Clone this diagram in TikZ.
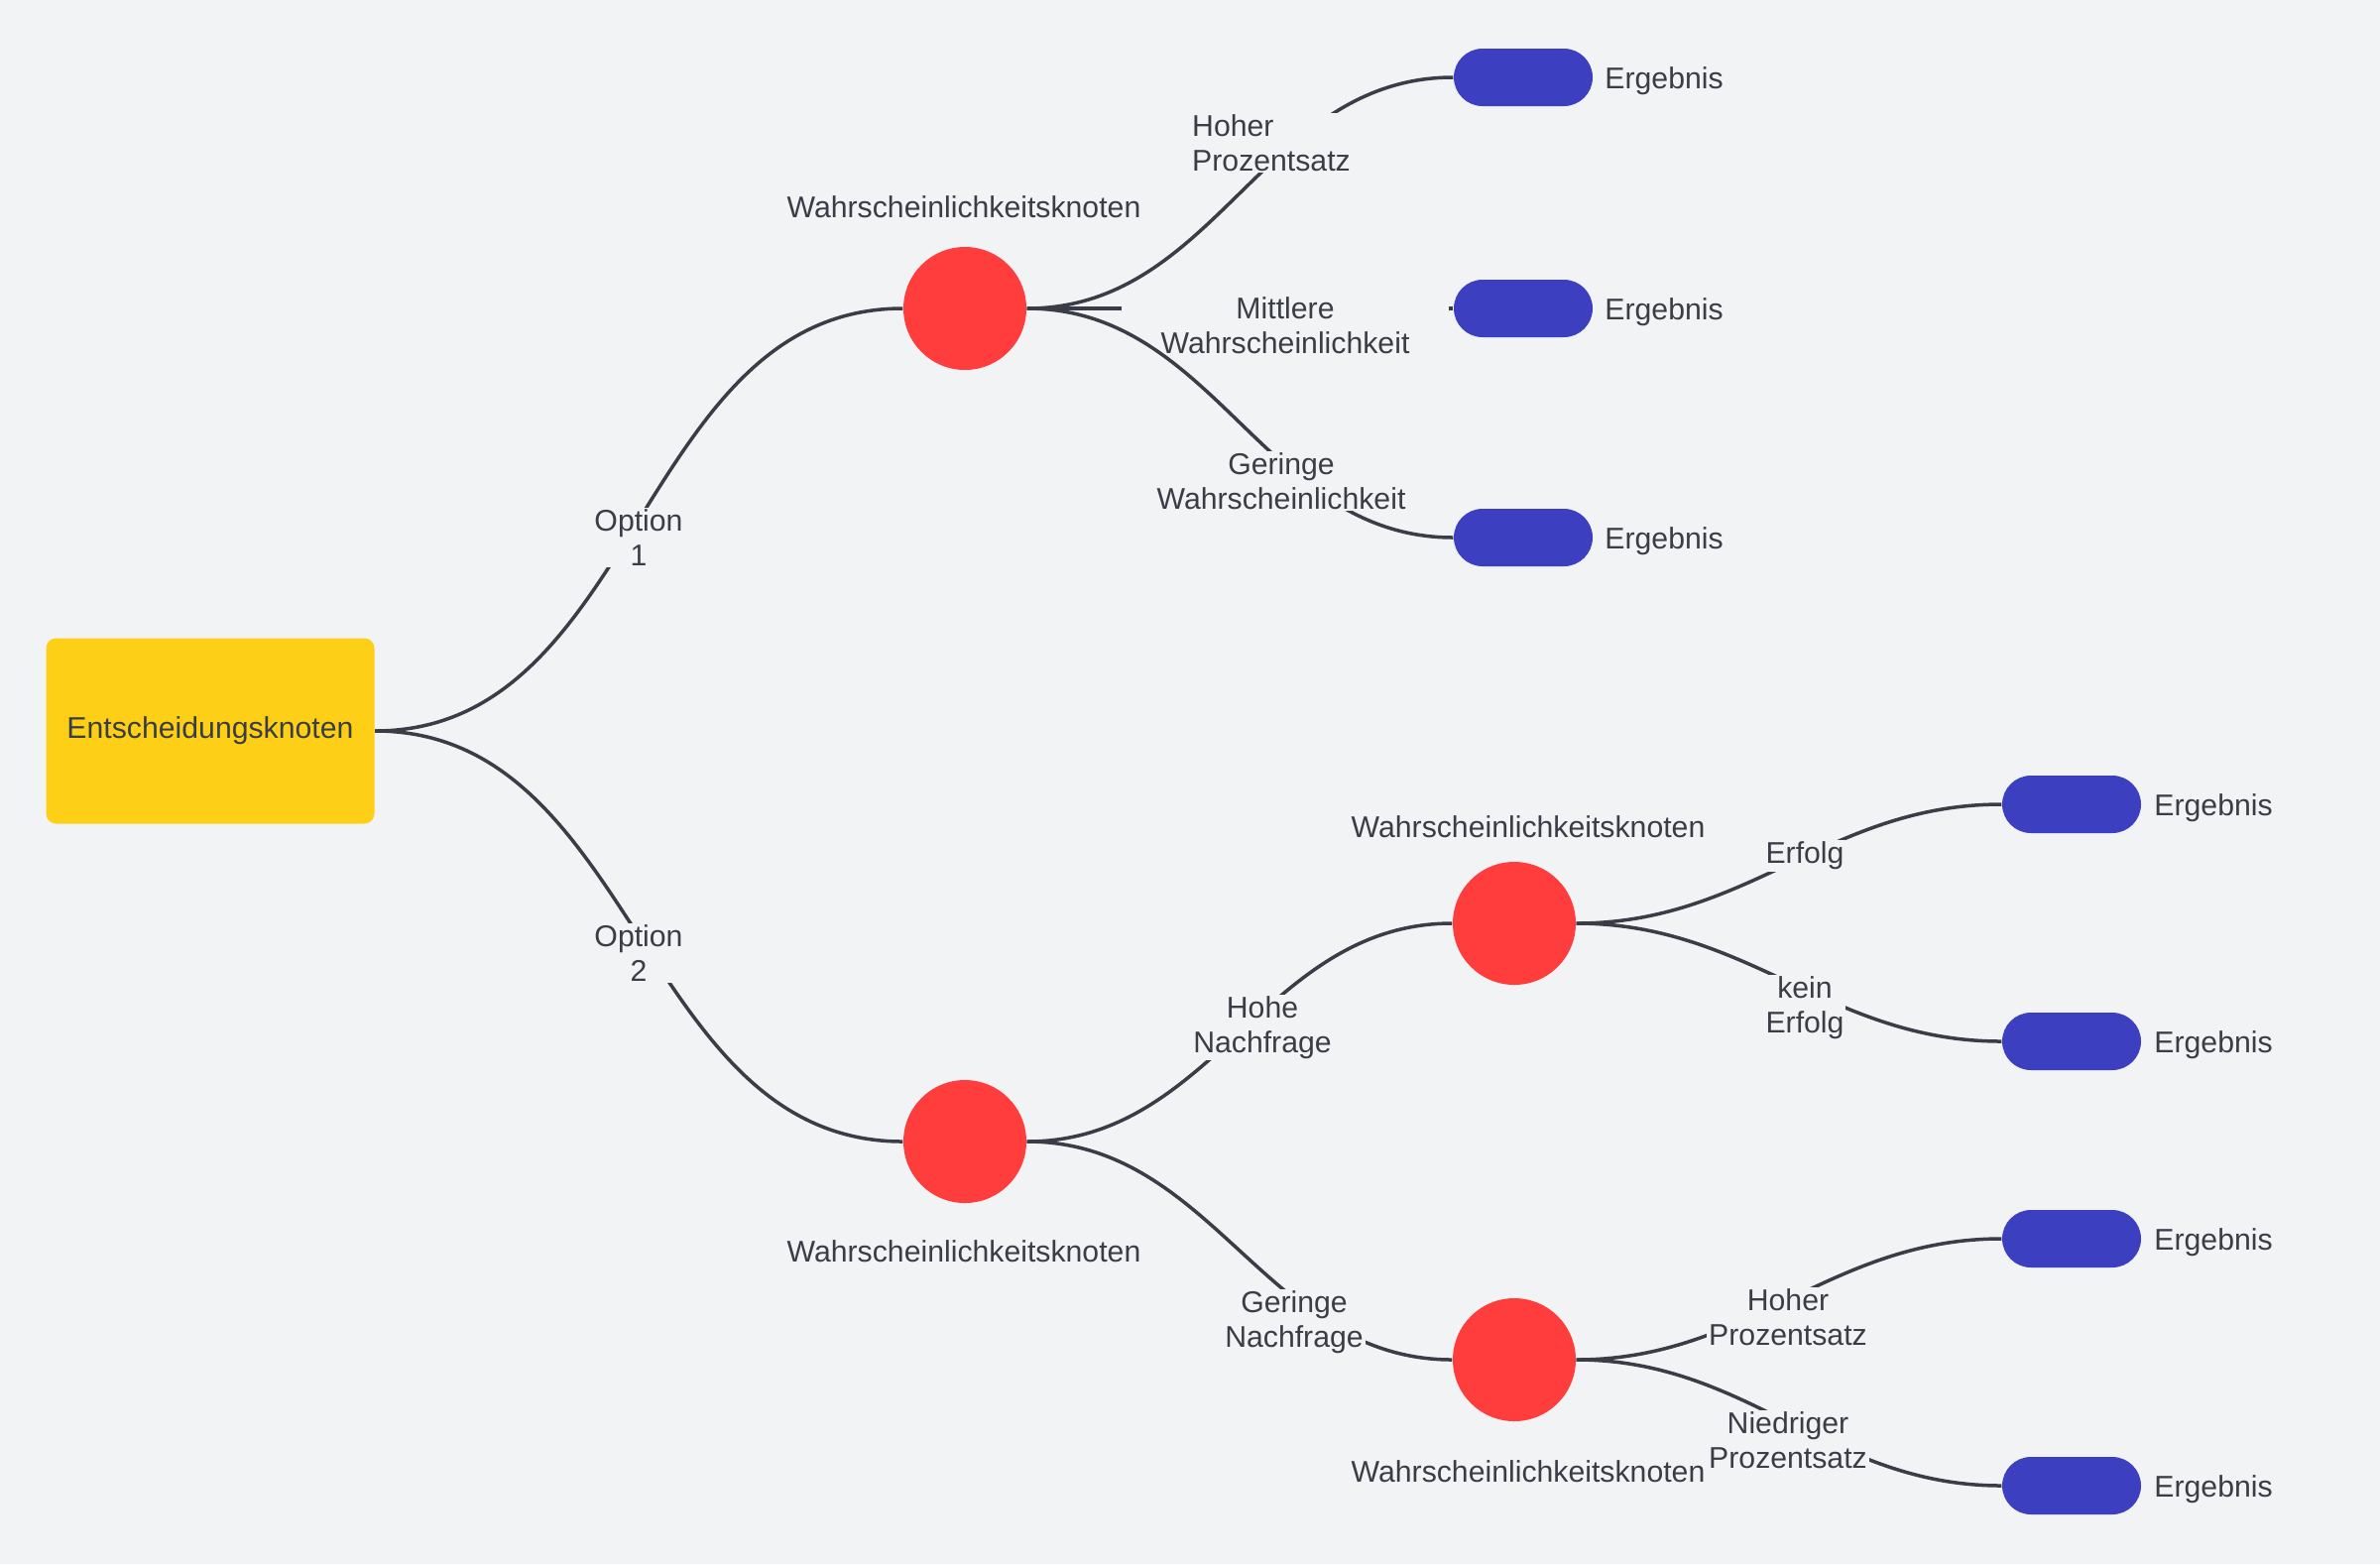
\documentclass[tikz,border=0pt]{standalone}
\usepackage{fontspec}
\setmainfont{Liberation Sans}
\definecolor{hintergrund}{HTML}{F2F3F5}
\definecolor{gelb}{HTML}{FDD017}
\definecolor{rot}{HTML}{FF3D3D}
\definecolor{blau}{HTML}{3C40C0}
\definecolor{dunkel}{HTML}{3A3D46}
\tikzset{
  entscheidung/.style={rectangle, rounded corners=1mm, fill=gelb, minimum width=33.1mm, minimum height=18.7mm},
  zufall/.style={circle, fill=rot, minimum size=12.4mm, inner sep=0pt},
  ergebnis/.style={rectangle, rounded corners=2.9mm, fill=blau, minimum width=14mm, minimum height=5.8mm},
  kante/.style={draw=dunkel, line width=0.35mm},
  beschr/.style={align=center, fill=hintergrund, inner sep=0.5pt},
}

\begin{document}
\begin{tikzpicture}[x=0.1mm, y=-0.1mm, font=\fontsize{8.6}{9.8}\selectfont, text=dunkel]
    \fill[hintergrund](0, 0)rectangle(2400, 1577);
    \useasboundingbox(0, 0)rectangle(2400, 1577);
    % Knoten
    \node[entscheidung](d) at (212, 737){Entscheidungsknoten};
    \node[zufall](w1) at (973, 311){};
    \node[zufall](w2) at (973, 1151){};
    \node[zufall](w3) at (1527, 931){};
    \node[zufall](w4) at (1527, 1371){};
    \node(t1) at (972, 209){Wahrscheinlichkeitsknoten};
    \node(t2) at (972, 1262){Wahrscheinlichkeitsknoten};
    \node(t3) at (1541, 834){Wahrscheinlichkeitsknoten};
    \node(t4) at (1541, 1484){Wahrscheinlichkeitsknoten};
    \node[ergebnis](o1) at (1536, 78){};
    \node[ergebnis](o2) at (1536, 311){};
    \node[ergebnis](o3) at (1536, 542){};
    \node[ergebnis](o4) at (2089, 811){};
    \node[ergebnis](o5) at (2089, 1050){};
    \node[ergebnis](o6) at (2089, 1249){};
    \node[ergebnis](o7) at (2089, 1498){};
    \node[anchor=west](e1) at (1606, 82){Ergebnis};
    \node[anchor=west](e2) at (1606, 315){Ergebnis};
    \node[anchor=west](e3) at (1606, 546){Ergebnis};
    \node[anchor=west](e4) at (2160, 815){Ergebnis};
    \node[anchor=west](e5) at (2160, 1054){Ergebnis};
    \node[anchor=west](e6) at (2160, 1253){Ergebnis};
    \node[anchor=west](e7) at (2160, 1502){Ergebnis};
    \node[align=center, inner xsep=11pt](mw) at (1296, 328){Mittlere\\Wahrscheinlichkeit};
    % Kanten
    \draw[kante](d.east)to[out=0, in=180](w1.west);
    \draw[kante](d.east)to[out=0, in=180](w2.west);
    \draw[kante](w1.east)to[out=0, in=180](o1.west);
    \draw[kante](w1.east)--(mw.west |- w1.east) (mw.east |- o2.west)--(o2.west);
    \draw[kante](w1.east)to[out=0, in=180](o3.west);
    \draw[kante](w2.east)to[out=0, in=180](w3.west);
    \draw[kante](w2.east)to[out=0, in=180](w4.west);
    \draw[kante](w3.east)to[out=0, in=180](o4.west);
    \draw[kante](w3.east)to[out=0, in=180](o5.west);
    \draw[kante](w4.east)to[out=0, in=180](o6.west);
    \draw[kante](w4.east)to[out=0, in=180](o7.west);
    % Beschriftungen
    \node[beschr](opt1) at (644, 542){Option\\1};
    \node[beschr](opt2) at (644, 961){Option\\2};
    \node[beschr, align=left](hp1) at (1282, 144){Hoher\\Prozentsatz};
    \node[beschr](gw) at (1292, 485){Geringe\\Wahrscheinlichkeit};
    \node[beschr](hn) at (1273, 1036){Hohe\\Nachfrage};
    \node[beschr](gn) at (1305, 1333){Geringe\\Nachfrage};
    \node[beschr](er) at (1820, 863){Erfolg};
    \node[beschr](ke) at (1820, 1016){kein\\Erfolg};
    \node[beschr](hp2) at (1803, 1328){Hoher\\Prozentsatz};
    \node[beschr](np) at (1803, 1452){Niedriger\\Prozentsatz};
\end{tikzpicture}
\end{document}
